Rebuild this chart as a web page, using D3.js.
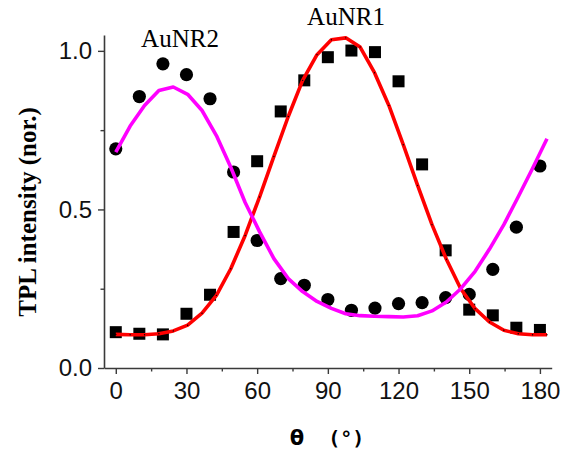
<!DOCTYPE html>
<html>
<head>
<meta charset="utf-8">
<script src="https://cdn.jsdelivr.net/npm/d3@7"></script>
<style>
  body { margin: 0; background: #fff; }
</style>
</head>
<body>
<svg id="chart" width="563" height="455"></svg>
<script>
// Measured angles (deg)
var angles = [0, 10, 20, 30, 40, 50, 60, 70, 80, 90, 100, 110, 120, 130, 140, 150, 160, 170, 180];
// AuNR1 measured TPL (squares)
var aunr1 = [0.113, 0.108, 0.106, 0.171, 0.231, 0.429, 0.652, 0.809, 0.907, 0.980, 1.001, 0.996, 0.904, 0.642, 0.371, 0.184, 0.166, 0.127, 0.120];
// AuNR2 measured TPL (circles)
var aunr2 = [0.691, 0.856, 0.959, 0.925, 0.849, 0.618, 0.402, 0.282, 0.261, 0.216, 0.182, 0.189, 0.203, 0.206, 0.222, 0.232, 0.311, 0.444, 0.637];

// Fit curves, sampled every 6.1 deg
var fitAngles = [0, 6.1, 12.2, 18.3, 24.4, 30.5, 36.6, 42.7, 48.8, 54.9, 61, 67.1, 73.2, 79.3, 85.4, 91.5,
  97.6, 103.7, 109.8, 115.9, 122, 128.1, 134.2, 140.3, 146.4, 152.5, 158.6, 164.7, 170.8, 176.9, 183];
var fit1 = [0.106, 0.105, 0.105, 0.108, 0.117, 0.135, 0.173, 0.229, 0.313, 0.418, 0.539, 0.667, 0.793, 0.907, 0.988, 1.035,
  1.041, 1.012, 0.931, 0.828, 0.704, 0.576, 0.452, 0.343, 0.250, 0.187, 0.145, 0.119, 0.108, 0.105, 0.105];
var fit2 = [0.681, 0.763, 0.828, 0.875, 0.886, 0.863, 0.812, 0.733, 0.633, 0.522, 0.430, 0.345, 0.282, 0.241, 0.210, 0.188,
  0.171, 0.165, 0.163, 0.162, 0.161, 0.165, 0.180, 0.208, 0.250, 0.305, 0.375, 0.452, 0.540, 0.630, 0.723];

var xTicks = [0, 30, 60, 90, 120, 150, 180];
var xMinor = [15, 45, 75, 105, 135, 165];
var yTicks = [0.0, 0.5, 1.0];
var yMinor = [0.25, 0.75];

var svg = d3.select("#chart");

// Scales
var x = d3.scaleLinear().domain([-5, 185]).range([104, 551.7]);
var y = d3.scaleLinear().domain([0, 1.05]).range([368, 35]);

var axisColour = "#3a3a3a";
var tickFont = "'Liberation Sans', Arial, sans-serif";

// Minor ticks first (no labels)
svg.append("g")
  .attr("transform", "translate(0,368)")
  .call(d3.axisBottom(x).tickValues(xMinor).tickSize(3.5).tickSizeOuter(0).tickFormat(""))
  .call(function(g) { g.select(".domain").remove(); })
  .selectAll("line").attr("stroke", axisColour).attr("stroke-width", 1.4);

svg.append("g")
  .attr("transform", "translate(104,0)")
  .call(d3.axisLeft(y).tickValues(yMinor).tickSize(3.5).tickSizeOuter(0).tickFormat(""))
  .call(function(g) { g.select(".domain").remove(); })
  .selectAll("line").attr("stroke", axisColour).attr("stroke-width", 1.4);

// Major axes
var xAxis = svg.append("g")
  .attr("transform", "translate(0,368)")
  .call(d3.axisBottom(x).tickValues(xTicks).tickSize(6).tickSizeOuter(0).tickPadding(8));

var yAxis = svg.append("g")
  .attr("transform", "translate(104,0)")
  .call(d3.axisLeft(y).tickValues(yTicks).tickSize(6).tickSizeOuter(0).tickPadding(6).tickFormat(d3.format(".1f")));

[xAxis, yAxis].forEach(function(a) {
  a.select(".domain").attr("stroke", axisColour).attr("stroke-width", 1.6);
  a.selectAll(".tick line").attr("stroke", axisColour).attr("stroke-width", 1.4);
  a.selectAll(".tick text")
    .attr("fill", "#111")
    .style("font-family", tickFont)
    .style("font-size", "24px");
});

// Scatter points
svg.append("g").selectAll("rect")
  .data(angles)
  .enter().append("rect")
  .attr("x", function(d) { return x(d) - 6; })
  .attr("y", function(d, i) { return y(aunr1[i]) - 6; })
  .attr("width", 12)
  .attr("height", 12)
  .attr("fill", "#000");

svg.append("g").selectAll("circle")
  .data(angles)
  .enter().append("circle")
  .attr("cx", function(d) { return x(d); })
  .attr("cy", function(d, i) { return y(aunr2[i]); })
  .attr("r", 6.6)
  .attr("fill", "#000");

// Fit lines
var line = d3.line()
  .x(function(d) { return x(d[0]); })
  .y(function(d) { return y(d[1]); });

svg.append("path")
  .datum(d3.zip(fitAngles, fit1))
  .attr("d", line)
  .attr("fill", "none")
  .attr("stroke", "#ff0000")
  .attr("stroke-width", 3.6)
  .attr("stroke-linejoin", "round");

// tiny vertex marks on the red fit
svg.append("g").selectAll("circle")
  .data(d3.zip(fitAngles, fit1))
  .enter().append("circle")
  .attr("cx", function(d) { return x(d[0]); })
  .attr("cy", function(d) { return y(d[1]); })
  .attr("r", 0.7)
  .attr("fill", "#000");

svg.append("path")
  .datum(d3.zip(fitAngles, fit2))
  .attr("d", line)
  .attr("fill", "none")
  .attr("stroke", "#ff00ff")
  .attr("stroke-width", 3.6)
  .attr("stroke-linejoin", "round");

// Labels
var serif = "'Liberation Serif', 'Times New Roman', serif";

svg.append("text")
  .attr("x", 180).attr("y", 47)
  .attr("text-anchor", "middle")
  .style("font-family", serif).style("font-size", "25px")
  .text("AuNR2");

svg.append("text")
  .attr("x", 346).attr("y", 25)
  .attr("text-anchor", "middle")
  .style("font-family", serif).style("font-size", "25px")
  .text("AuNR1");

svg.append("text")
  .attr("transform", "translate(36,212) rotate(-90)")
  .attr("text-anchor", "middle")
  .style("font-family", serif).style("font-size", "25px").style("font-weight", "bold")
  .text("TPL intensity (nor.)");

var xt = svg.append("text")
  .attr("x", 327).attr("y", 445)
  .attr("text-anchor", "middle")
  .style("font-size", "20px").style("font-weight", "bold");
xt.append("tspan").style("font-family", "'DejaVu Sans', sans-serif").style("font-size", "21px").text("θ");
xt.append("tspan").style("font-family", "'DejaVu Sans Mono', monospace").attr("dx", 24).text("(°)");
</script>
</body>
</html>
